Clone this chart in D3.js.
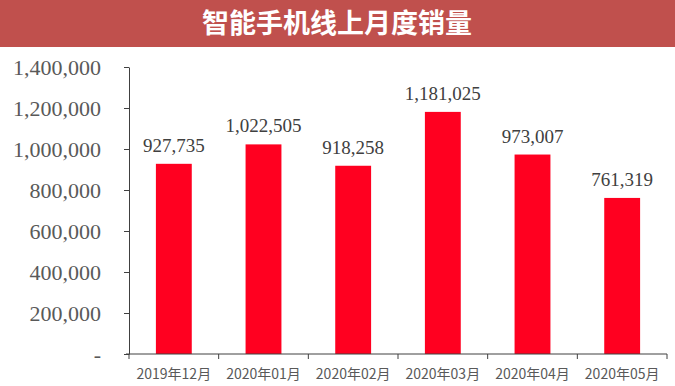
<!DOCTYPE html>
<html>
<head>
<meta charset="utf-8">
<script src="https://cdn.jsdelivr.net/npm/d3@7"></script>
<style>
  body { margin: 0; background: #fff; }
</style>
</head>
<body>
<svg class="chart"></svg>
<script>
const title = "智能手机线上月度销量";
const months = ["2019年12月", "2020年01月", "2020年02月", "2020年03月", "2020年04月", "2020年05月"];
const sales = [927735, 1022505, 918258, 1181025, 973007, 761319];
const yTicks = [0, 200000, 400000, 600000, 800000, 1000000, 1200000, 1400000];

const W = 675, H = 386;
const margin = {top: 67, right: 8, bottom: 32, left: 129},
    width = W - margin.left - margin.right,
    height = H - margin.top - margin.bottom;

const root = d3.select(".chart").attr("width", W).attr("height", H);

// title band
root.append("rect")
    .attr("x", 0).attr("y", 0)
    .attr("width", W).attr("height", 47)
    .attr("fill", "#c0504d");
root.append("text")
    .attr("x", 337).attr("y", 33)
    .attr("text-anchor", "middle")
    .attr("fill", "#fff")
    .attr("font-family", "'Noto Sans CJK SC', sans-serif")
    .attr("font-weight", "bold")
    .attr("font-size", 27)
    .text(title);

const svg = root.append("g")
    .attr("transform", `translate(${margin.left}, ${margin.top})`);

const x = d3.scaleBand()
    .domain(months)
    .range([0, width])
    .paddingInner(0.6)
    .paddingOuter(0.3);

const y = d3.scaleLinear()
    .domain([0, 1400000])
    .range([height, 0]);

const fmt = d3.format(",");

// y axis
const yAxis = svg.append("g")
    .call(d3.axisLeft(y).tickValues(yTicks).tickSize(5).tickSizeOuter(0)
        .tickFormat(d => d === 0 ? "-" : fmt(d)));
yAxis.select(".domain").attr("stroke", "#404040");
yAxis.selectAll(".tick line").attr("stroke", "#404040");
yAxis.selectAll(".tick text")
    .attr("x", -28)
    .attr("fill", "#595959")
    .attr("font-family", "'Liberation Serif', serif")
    .attr("font-size", 22);

// bars
svg.selectAll(".bar")
    .data(sales)
    .join("rect")
    .attr("class", "bar")
    .attr("x", (d, i) => x(months[i]))
    .attr("y", d => y(d))
    .attr("width", x.bandwidth())
    .attr("height", d => height - y(d))
    .attr("fill", "#ff0020");

// value labels
svg.selectAll(".val")
    .data(sales)
    .join("text")
    .attr("class", "val")
    .attr("x", (d, i) => x(months[i]) + x.bandwidth() / 2)
    .attr("y", d => y(d) - 12)
    .attr("text-anchor", "middle")
    .attr("fill", "#404040")
    .attr("font-family", "'Liberation Serif', serif")
    .attr("font-size", 19)
    .text(d => fmt(d));

// x axis with ticks between categories
const xg = svg.append("g").attr("transform", `translate(0,${height})`);
xg.append("line")
    .attr("x1", -3).attr("x2", width)
    .attr("stroke", "#404040");
const step = width / months.length;
xg.selectAll(".xt")
    .data(d3.range(months.length + 1))
    .join("line")
    .attr("x1", i => i * step).attr("x2", i => i * step)
    .attr("y1", 0).attr("y2", 5)
    .attr("stroke", "#404040");
xg.selectAll(".xl")
    .data(months)
    .join("text")
    .attr("x", d => x(d) + x.bandwidth() / 2)
    .attr("y", 25)
    .attr("text-anchor", "middle")
    .attr("fill", "#595959")
    .attr("font-family", "'Noto Sans CJK SC', sans-serif")
    .attr("font-size", 14)
    .text(d => d);
</script>
</body>
</html>
